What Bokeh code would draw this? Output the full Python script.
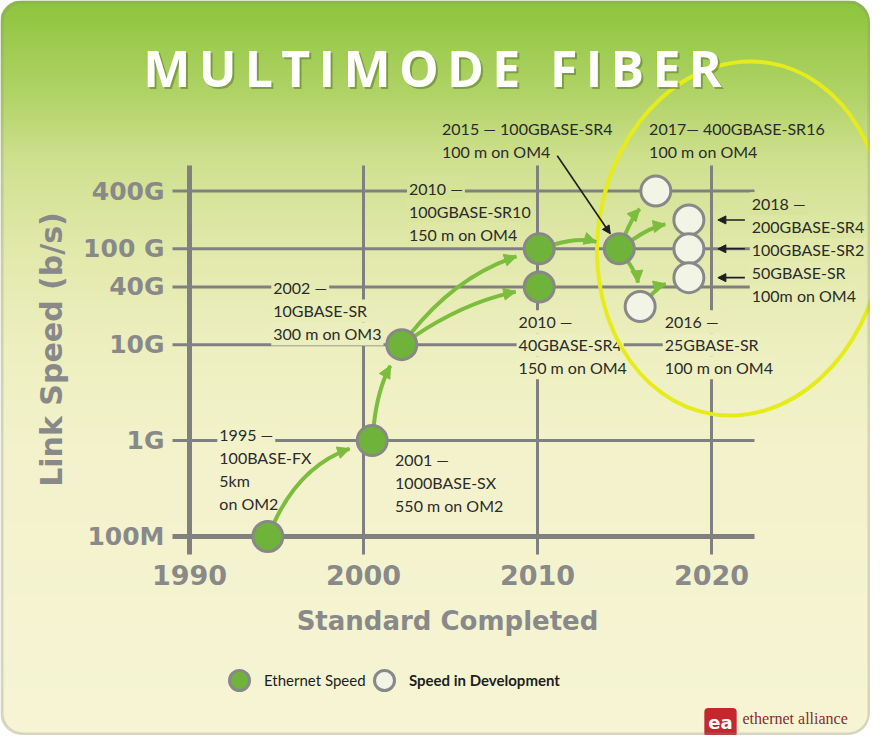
import math
import numpy as np
from bokeh.plotting import figure
from bokeh.models import (Range1d, FixedTicker, ColumnDataSource, Arrow, NormalHead,
                          Label, Legend, LegendItem, BoxAnnotation)
from bokeh.core.properties import value
from bokeh.embed import file_html
from bokeh.resources import INLINE

# ---------------- data ----------------
speed_ticks = [1e8, 1e9, 1e10, 4e10, 1e11, 4e11]
speed_labels = ["100M", "1G", "10G", "40G", "100 G", "400G"]
year_ticks = [1990, 2000, 2010, 2020]
year_labels = ["1990", "2000", "2010", "2020"]

# Ethernet speeds (completed standards)
eth_years = [1994.5, 2000.5, 2002.2, 2010.1, 2010.1, 2014.7]
eth_speeds = [1e8, 1e9, 1e10, 4e10, 1e11, 1e11]

# Speeds in development
dev_years = [2016.8, 2015.9, 2018.7, 2018.7, 2018.7]
dev_speeds = [4e11, 2.5e10, 2e11, 1e11, 5e10]

# evolution arrows between points (from -> to)
links = [("e0", "e1"), ("e1", "e2"), ("e2", "e4"), ("e2", "e3"), ("e4", "e5"),
         ("e5", "d0"), ("e5", "d2"), ("e5", "d1"), ("d1", "d4")]

# annotation texts
note_texts = [
    "2015 \u2014 100GBASE-SR4\n100 m on OM4",
    "2017\u2014 400GBASE-SR16\n100 m on OM4",
    "2010 \u2014\n100GBASE-SR10\n150 m on OM4",
    "2002 \u2014\n10GBASE-SR\n300 m on OM3",
    "1995 \u2014\n100BASE-FX\n5km\non OM2",
    "2001 \u2014\n1000BASE-SX\n550 m on OM2",
    "2010 \u2014\n40GBASE-SR4\n150 m on OM4",
    "2016 \u2014\n25GBASE-SR\n100 m on OM4",
    "2018 \u2014\n200GBASE-SR4\n100GBASE-SR2\n50GBASE-SR\n100m on OM4",
]

# ---------------- layout / style ----------------
link_bend = [30, 10, 25, 15, 12, 6, 8, 8, 8]
note_years = [2004.4, 2016.3, 2002.5, 1994.7, 1991.6, 2001.7, 2008.8, 2017.2, 2022.2]
note_speeds = [4e11, 4e11, 4e11, 4e10, 1e9, 1e9, 1e10, 1e10, 1e11]
note_dy = [-63, -63, -3, 1, -6, 19, -23, -23, -45]
note_bg = [False, False, True, True, True, False, True, True, True]

W, H = 870, 735
OFF = 8
X1990, PX_YR = 197.0, 17.4
Y100M, PX_DEC = 544.0, 95.9
FRAME_L, FRAME_R, FRAME_T, FRAME_B = OFF, OFF + W, OFF, OFF + H
TICK_LEFT_PX, LINE_END_PX, LINE_TOP_PX, TICK_BOTTOM_PX = 180, 762, 173, 562

GRID = "#808080"
AXIS_TXT = "#898989"
GREEN = "#7cbd3e"
NOTE_FONT = "Lato"
LINE_H = 23

STOPS = [(0, (0x8c, 0xc4, 0x3b)), (100, (0xb3, 0xd4, 0x6a)), (160, (0xcf, 0xe0, 0x8f)),
         (250, (0xe2, 0xe9, 0xab)), (350, (0xed, 0xef, 0xc0)), (450, (0xf3, 0xf2, 0xcb)),
         (735, (0xf6, 0xf4, 0xd4))]


def hexc(c):
    return "#%02x%02x%02x" % c


def bg_rgb(t):
    t = min(max(t, STOPS[0][0]), STOPS[-1][0])
    for (p0, c0), (p1, c1) in zip(STOPS[:-1], STOPS[1:]):
        if p0 <= t <= p1:
            f = (t - p0) / (p1 - p0)
            return tuple(int(round(a + (b - a) * f)) for a, b in zip(c0, c1))
    return STOPS[-1][1]


def bg_at(page_y):
    return hexc(bg_rgb(page_y - OFF))


def year_px(y):
    return X1990 + (y - 1990) * PX_YR


def speed_py(s):
    return Y100M - PX_DEC * math.log10(s / 1e8)


def px_year(px):
    return 1990 + (px - X1990) / PX_YR


def py_speed(py):
    return 1e8 * 10 ** ((Y100M - py) / PX_DEC)


p = figure(width=W, height=H,
           x_range=Range1d(px_year(FRAME_L), px_year(FRAME_R)),
           y_range=Range1d(py_speed(FRAME_B), py_speed(FRAME_T)),
           y_axis_type="log", output_backend="svg", toolbar_location=None,
           min_border=0, min_border_left=0, min_border_bottom=0, min_border_top=0,
           min_border_right=0)
p.background_fill_color = None
p.border_fill_color = None
p.outline_line_color = None
p.xgrid.visible = False
p.ygrid.visible = False
p.styles = {"border-radius": "22px", "overflow": "hidden"}

# ---- card background (vertical gradient) ----
img = np.empty((H, 1), dtype=np.uint32)
view = img.view(dtype=np.uint8).reshape((H, 1, 4))
for i in range(H):
    r, g, b = bg_rgb(H - i - 0.5)
    view[i, 0, :] = (r, g, b, 255)
p.image_rgba(image=[img], x=px_year(FRAME_L), y=py_speed(FRAME_B),
             dw=px_year(FRAME_R) - px_year(FRAME_L), dh=py_speed(FRAME_T) - py_speed(FRAME_B),
             level="image")

# ---- axes (drawn at the 1990 / 100M crossing) ----
xa = p.xaxis[0]
xa.fixed_location = speed_ticks[0]
xa.bounds = (px_year(TICK_LEFT_PX), px_year(LINE_END_PX))
xa.ticker = FixedTicker(ticks=year_ticks)
xa.major_label_overrides = {t: "" for t in year_ticks}
xa.major_label_text_font_size = "0px"
xa.major_label_standoff = 0
xa.axis_line_color = GRID
xa.axis_line_width = 5
xa.major_tick_in = 0
xa.major_tick_out = 0
xa.minor_tick_line_color = None
xa.level = "underlay"

ya = p.yaxis[0]
ya.fixed_location = year_ticks[0]
ya.bounds = (py_speed(TICK_BOTTOM_PX), py_speed(LINE_TOP_PX))
ya.ticker = FixedTicker(ticks=speed_ticks)
ya.major_label_overrides = {t: "" for t in speed_ticks}
ya.major_label_text_font_size = "0px"
ya.major_label_standoff = 0
ya.axis_line_color = GRID
ya.axis_line_width = 5
ya.major_tick_in = 0
ya.major_tick_out = 0
ya.minor_tick_line_color = None
ya.level = "underlay"

# tick labels
p.text(x=[year_ticks[0]] * len(speed_ticks), y=speed_ticks, text=speed_labels, x_offset=-25,
       text_align="right", text_baseline="middle", text_font=value("DejaVu Sans"),
       text_font_style="bold", text_font_size="25px", text_color=AXIS_TXT)
p.text(x=year_ticks, y=[speed_ticks[0]] * len(year_ticks), text=year_labels, y_offset=38,
       text_align="center", text_baseline="middle", text_font=value("DejaVu Sans"),
       text_font_style="bold", text_font_size="27px", text_color=AXIS_TXT)

# axis titles
p.add_layout(Label(x=px_year(59), y=py_speed(357), text="Link Speed (b/s)", angle=math.pi / 2,
                   text_align="center", text_baseline="middle", text_font="DejaVu Sans",
                   text_font_style="bold", text_font_size="30px", text_color=AXIS_TXT))
p.add_layout(Label(x=px_year(455), y=py_speed(628), text="Standard Completed",
                   text_align="center", text_baseline="middle", text_font="DejaVu Sans",
                   text_font_style="bold", text_font_size="26px", text_color=AXIS_TXT))

# ---- grid lines (with their tick marks) ----
hs = speed_ticks[1:]
p.segment(x0=[px_year(TICK_LEFT_PX)] * len(hs), y0=hs, x1=[px_year(LINE_END_PX)] * len(hs), y1=hs,
          line_color=GRID, line_width=3)
vs = year_ticks[1:]
p.segment(x0=vs, y0=[py_speed(TICK_BOTTOM_PX)] * len(vs), x1=vs,
          y1=[py_speed(LINE_TOP_PX)] * len(vs), line_color=GRID, line_width=3)

# ---- annotation texts (one text row per line, each masking the grid behind it) ----
rows = {"x": [], "y": [], "text": [], "yoff": [], "bg": []}
for txt, yr, sp, dy, use_bg in zip(note_texts, note_years, note_speeds, note_dy, note_bg):
    for j, line in enumerate(txt.split("\n")):
        off = dy + j * LINE_H
        rows["x"].append(yr)
        rows["y"].append(sp)
        rows["text"].append(line)
        rows["yoff"].append(off)
        rows["bg"].append(bg_at(speed_py(sp) + off) if use_bg else None)
p.text(x="x", y="y", text="text", source=ColumnDataSource(rows), y_offset="yoff",
       text_font=value(NOTE_FONT), text_font_size="16px", text_color="#2b2b2b",
       text_align="left", text_baseline="middle", text_line_height=1.15,
       background_fill_color="bg", padding=2)

# ---- highlight ellipse ----
p.ellipse(x=[px_year(748)], y=[py_speed(246)], width=285, height=356,
          width_units="screen", height_units="screen", angle=-0.16,
          fill_color=None, line_color="#e6ec1c", line_width=4)


# ---- evolution arrows ----
def pt(key):
    i = int(key[1:])
    if key[0] == "e":
        return year_px(eth_years[i]), speed_py(eth_speeds[i])
    return year_px(dev_years[i]), speed_py(dev_speeds[i])


def unit(dx, dy):
    d = math.hypot(dx, dy)
    return dx / d, dy / d


R = 16
q = {k: [] for k in ("x0", "y0", "x1", "y1", "cx", "cy")}
h = {k: [] for k in ("xs", "ys", "xe", "ye")}
for (a, b), bend in zip(links, link_bend):
    ax, ay = pt(a)
    bx, by = pt(b)
    ux, uy = unit(bx - ax, by - ay)
    cx, cy = (ax + bx) / 2 + bend * uy, (ay + by) / 2 - bend * ux
    sx, sy = unit(cx - ax, cy - ay)
    x0, y0 = ax + (R - 2) * sx, ay + (R - 2) * sy
    tx, ty = unit(bx - cx, by - cy)
    x1, y1 = bx - (R + 8) * tx, by - (R + 8) * ty
    for k, v in (("x0", px_year(x0)), ("y0", py_speed(y0)), ("x1", px_year(x1)),
                 ("y1", py_speed(y1)), ("cx", px_year(cx)), ("cy", py_speed(cy))):
        q[k].append(v)
    ex, ey = unit(x1 - cx, y1 - cy)
    h["xs"].append(px_year(x1 - 6 * ex))
    h["ys"].append(py_speed(y1 - 6 * ey))
    h["xe"].append(px_year(x1))
    h["ye"].append(py_speed(y1))

p.quadratic(x0="x0", y0="y0", x1="x1", y1="y1", cx="cx", cy="cy",
            source=ColumnDataSource(q), line_color=GREEN, line_width=4)
p.add_layout(Arrow(end=NormalHead(size=12, fill_color=GREEN, line_color=GREEN, line_width=1),
                   source=ColumnDataSource(h), x_start="xs", y_start="ys", x_end="xe", y_end="ye",
                   line_color=GREEN, line_width=4))

# ---- points ----
eth_r = p.scatter(eth_years, eth_speeds, size=30, marker="circle",
                  fill_color="#6fb33a", line_color="#888888", line_width=3)
dev_r = p.scatter(dev_years, dev_speeds, size=30, marker="circle",
                  fill_color="#f2f4e6", line_color="#888888", line_width=3)

# ---- black pointer arrows ----
e5x, e5y = pt("e5")
bk = {"xs": [px_year(e5x - 62)], "ys": [py_speed(e5y - 93)],
      "xe": [px_year(e5x - 9)], "ye": [py_speed(e5y - 15)]}
for key in ("d2", "d3", "d4"):
    dx_, dy_ = pt(key)
    bk["xs"].append(px_year(dx_ + 56))
    bk["ys"].append(py_speed(dy_))
    bk["xe"].append(px_year(dx_ + 29))
    bk["ye"].append(py_speed(dy_))
p.add_layout(Arrow(end=NormalHead(size=8, fill_color="#1e1e1e", line_color="#1e1e1e", line_width=1),
                   source=ColumnDataSource(bk), x_start="xs", y_start="ys", x_end="xe", y_end="ye",
                   line_color="#1e1e1e", line_width=1.6))

# ---- title ----
title_text = "\u2009".join("MULTIMODE FIBER")
tx_, ty_ = px_year(440), py_speed(75)
p.add_layout(Label(x=tx_, y=ty_, text=title_text, text_align="center", text_baseline="middle",
                   text_font="Open Sans", text_font_style="bold", text_font_size="50px",
                   text_color="#4e5e22", text_alpha=0.45, x_offset=2, y_offset=-2))
p.add_layout(Label(x=tx_, y=ty_, text=title_text, text_align="center", text_baseline="middle",
                   text_font="Open Sans", text_font_style="bold", text_font_size="50px",
                   text_color="#ffffff"))

# ---- legends ----
leg_common = dict(orientation="horizontal", glyph_width=50, glyph_height=50, label_standoff=0,
                  spacing=0, padding=0, margin=0, border_line_color=None,
                  background_fill_alpha=0, label_text_font=NOTE_FONT,
                  label_text_font_size="15px", label_text_color="#1e1e1e")
p.add_layout(Legend(items=[LegendItem(label="Ethernet Speed", renderers=[eth_r])],
                    location=(222 - FRAME_L, FRAME_B - 713), **leg_common))
p.add_layout(Legend(items=[LegendItem(label="Speed in Development", renderers=[dev_r])],
                    location=(367 - FRAME_L, FRAME_B - 713), label_text_font_style="bold",
                    **leg_common))

# ---- logo ----
p.add_layout(Label(x=px_year(728), y=py_speed(730), text="ea", text_align="center",
                   text_baseline="middle", text_font="DejaVu Sans", text_font_style="bold",
                   text_font_size="18px", text_color="#ffffff", background_fill_color="#c4282e",
                   padding=4, border_radius=4))
p.add_layout(Label(x=px_year(750), y=py_speed(726), text="ethernet alliance", text_align="left",
                   text_baseline="middle", text_font="Liberation Serif", text_font_size="16px",
                   text_color="#8b2c2c"))

# ---- card border ----
p.add_layout(BoxAnnotation(left=px_year(FRAME_L + 1.5), right=px_year(FRAME_R - 1.5),
                           top=py_speed(FRAME_T + 1.5), bottom=py_speed(FRAME_B - 1.5),
                           fill_color=None, fill_alpha=0, line_color="#8d8d8d", line_width=3,
                           border_radius=21))

open("out.html", "w").write(file_html(p, INLINE))
